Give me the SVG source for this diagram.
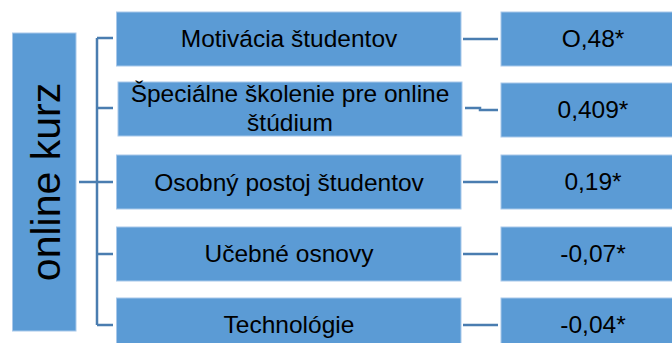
<svg xmlns="http://www.w3.org/2000/svg" width="672" height="343" viewBox="0 0 672 343">
<style>
.box{fill:#5b9bd5;stroke:#a8c8ea;stroke-width:1}
.t{font-family:"Liberation Sans",Arial,sans-serif;font-size:24.5px;fill:#000;text-anchor:middle}
.c{fill:none;stroke:#4a7db0;stroke-width:2.5}
</style>
<rect width="672" height="343" fill="#fff"/>
<g id="connectors">
<path class="c" d="M79 182H97M97 38V325M97 38H113M97 108H113M97 182H113M97 254H113M97 325H113"/>
<path class="c" d="M463 39H498M465 108H480V110H498M463 182H498M463 254H498M463 325H498"/>
</g>
<g id="root"><rect class="box" x="12.5" y="33" width="63.5" height="298"/>
<text class="t" style="font-size:41px" transform="translate(60,182) rotate(-90)">online kurz</text></g>
<g id="n1"><rect class="box" x="116.5" y="12" width="344.5" height="54"/><text class="t" x="289" y="47">Motivácia študentov</text></g>
<g id="n2"><rect class="box" x="118" y="82" width="344" height="54"/><text class="t" x="290" y="102">Špeciálne školenie pre online</text><text class="t" x="290" y="131">štúdium</text></g>
<g id="n3"><rect class="box" x="116.5" y="155" width="344.5" height="54"/><text class="t" x="289" y="191">Osobný postoj študentov</text></g>
<g id="n4"><rect class="box" x="116.5" y="227" width="344.5" height="54"/><text class="t" x="289" y="262">Učebné osnovy</text></g>
<g id="n5"><rect class="box" x="116.5" y="298" width="344.5" height="54"/><text class="t" x="289" y="333">Technológie</text></g>
<g id="v1"><rect class="box" x="501" y="12" width="190" height="54"/><text class="t" x="593" y="47">O,48*</text></g>
<g id="v2"><rect class="box" x="501" y="83" width="190" height="54"/><text class="t" x="593" y="118">0,409*</text></g>
<g id="v3"><rect class="box" x="501" y="155" width="190" height="54"/><text class="t" x="593" y="190">0,19*</text></g>
<g id="v4"><rect class="box" x="501" y="227" width="190" height="54"/><text class="t" x="593" y="262">-0,07*</text></g>
<g id="v5"><rect class="box" x="501" y="298" width="190" height="54"/><text class="t" x="593" y="333">-0,04*</text></g>
</svg>
